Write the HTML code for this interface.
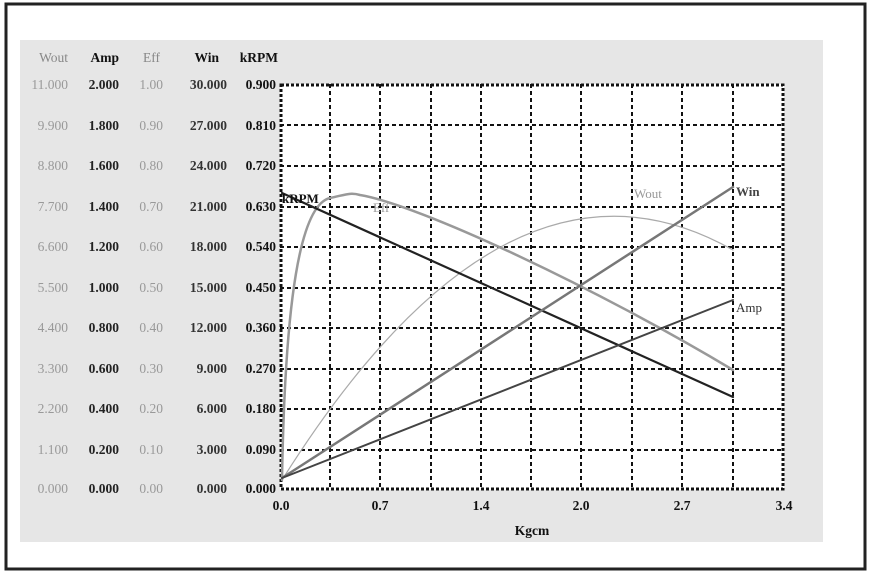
<!DOCTYPE html>
<html><head><style>
body{margin:0;background:#fff;}
svg{display:block;font-family:"Liberation Serif",serif;}
</style></head><body>
<svg width="872" height="578" viewBox="0 0 872 578">
<rect x="0" y="0" width="872" height="578" fill="#fff"/>
<rect x="6" y="4" width="859" height="565" fill="#fff" stroke="#222" stroke-width="3"/>
<rect x="20" y="40" width="803" height="502" fill="#e6e6e6"/>
<rect x="280" y="84" width="504" height="406" fill="#fff"/>
<g stroke="#111" stroke-width="2" stroke-dasharray="4,3">
<line x1="330" y1="84" x2="330" y2="490"/><line x1="380" y1="84" x2="380" y2="490"/><line x1="431" y1="84" x2="431" y2="490"/><line x1="481" y1="84" x2="481" y2="490"/><line x1="531" y1="84" x2="531" y2="490"/><line x1="581" y1="84" x2="581" y2="490"/><line x1="632" y1="84" x2="632" y2="490"/><line x1="682" y1="84" x2="682" y2="490"/><line x1="733" y1="84" x2="733" y2="490"/>
<line x1="280" y1="125" x2="784" y2="125"/><line x1="280" y1="166" x2="784" y2="166"/><line x1="280" y1="207" x2="784" y2="207"/><line x1="280" y1="247" x2="784" y2="247"/><line x1="280" y1="288" x2="784" y2="288"/><line x1="280" y1="328" x2="784" y2="328"/><line x1="280" y1="369" x2="784" y2="369"/><line x1="280" y1="409" x2="784" y2="409"/><line x1="280" y1="450" x2="784" y2="450"/>
</g>
<rect x="281" y="85" width="502" height="404" fill="none" stroke="#111" stroke-width="3" stroke-dasharray="3,2"/>
<g fill="none" stroke-linecap="round">
<path d="M282,480 Q507,122 733,250" stroke="#aaa" stroke-width="1.2"/>
<path d="M282,480 C285,300 300,205 330,198 C345,195 350,192 360,195 C420,205 600,290 733,370" stroke="#999" stroke-width="2.5"/>
<path d="M282,193 L733,397" stroke="#222" stroke-width="2.2"/>
<path d="M282,478 L733,187" stroke="#777" stroke-width="2.5"/>
<path d="M282,478 L733,300" stroke="#444" stroke-width="2"/>
</g>
<g font-size="13" fill="#111">
<text x="282" y="203" font-weight="bold">kRPM</text>
<text x="373" y="212" fill="#999">Eff</text>
<text x="634" y="198" fill="#999">Wout</text>
<text x="736" y="196" font-weight="bold" fill="#444">Win</text>
<text x="736" y="312" fill="#333">Amp</text>
</g>
<g font-size="13.5" text-anchor="end">
<g fill="#888"><text x="68" y="62">Wout</text></g>
<g fill="#111" font-weight="bold"><text x="119" y="62">Amp</text><text x="219" y="62">Win</text><text x="278" y="62">kRPM</text></g>
<g fill="#888"><text x="160" y="62">Eff</text></g>
</g>
<g font-size="13.5" text-anchor="end" font-weight="bold">
<g fill="#999" font-weight="normal">
<text x="68" y="89">11.000</text><text x="68" y="130">9.900</text><text x="68" y="170">8.800</text><text x="68" y="211">7.700</text><text x="68" y="251">6.600</text><text x="68" y="292">5.500</text><text x="68" y="332">4.400</text><text x="68" y="373">3.300</text><text x="68" y="413">2.200</text><text x="68" y="454">1.100</text><text x="68" y="493">0.000</text>
</g>
<g fill="#222">
<text x="119" y="89">2.000</text><text x="119" y="130">1.800</text><text x="119" y="170">1.600</text><text x="119" y="211">1.400</text><text x="119" y="251">1.200</text><text x="119" y="292">1.000</text><text x="119" y="332">0.800</text><text x="119" y="373">0.600</text><text x="119" y="413">0.400</text><text x="119" y="454">0.200</text><text x="119" y="493">0.000</text>
</g>
<g fill="#999" font-weight="normal">
<text x="163" y="89">1.00</text><text x="163" y="130">0.90</text><text x="163" y="170">0.80</text><text x="163" y="211">0.70</text><text x="163" y="251">0.60</text><text x="163" y="292">0.50</text><text x="163" y="332">0.40</text><text x="163" y="373">0.30</text><text x="163" y="413">0.20</text><text x="163" y="454">0.10</text><text x="163" y="493">0.00</text>
</g>
<g fill="#333">
<text x="227" y="89">30.000</text><text x="227" y="130">27.000</text><text x="227" y="170">24.000</text><text x="227" y="211">21.000</text><text x="227" y="251">18.000</text><text x="227" y="292">15.000</text><text x="227" y="332">12.000</text><text x="227" y="373">9.000</text><text x="227" y="413">6.000</text><text x="227" y="454">3.000</text><text x="227" y="493">0.000</text>
</g>
<g fill="#111">
<text x="276" y="89">0.900</text><text x="276" y="130">0.810</text><text x="276" y="170">0.720</text><text x="276" y="211">0.630</text><text x="276" y="251">0.540</text><text x="276" y="292">0.450</text><text x="276" y="332">0.360</text><text x="276" y="373">0.270</text><text x="276" y="413">0.180</text><text x="276" y="454">0.090</text><text x="276" y="493">0.000</text>
</g>
</g>
<g font-size="13.5" font-weight="bold" fill="#111" text-anchor="middle">
<text x="281" y="510">0.0</text><text x="380" y="510">0.7</text><text x="481" y="510">1.4</text><text x="581" y="510">2.0</text><text x="682" y="510">2.7</text><text x="784" y="510">3.4</text>
<text x="532" y="535">Kgcm</text>
</g>
</svg>
</body></html>
